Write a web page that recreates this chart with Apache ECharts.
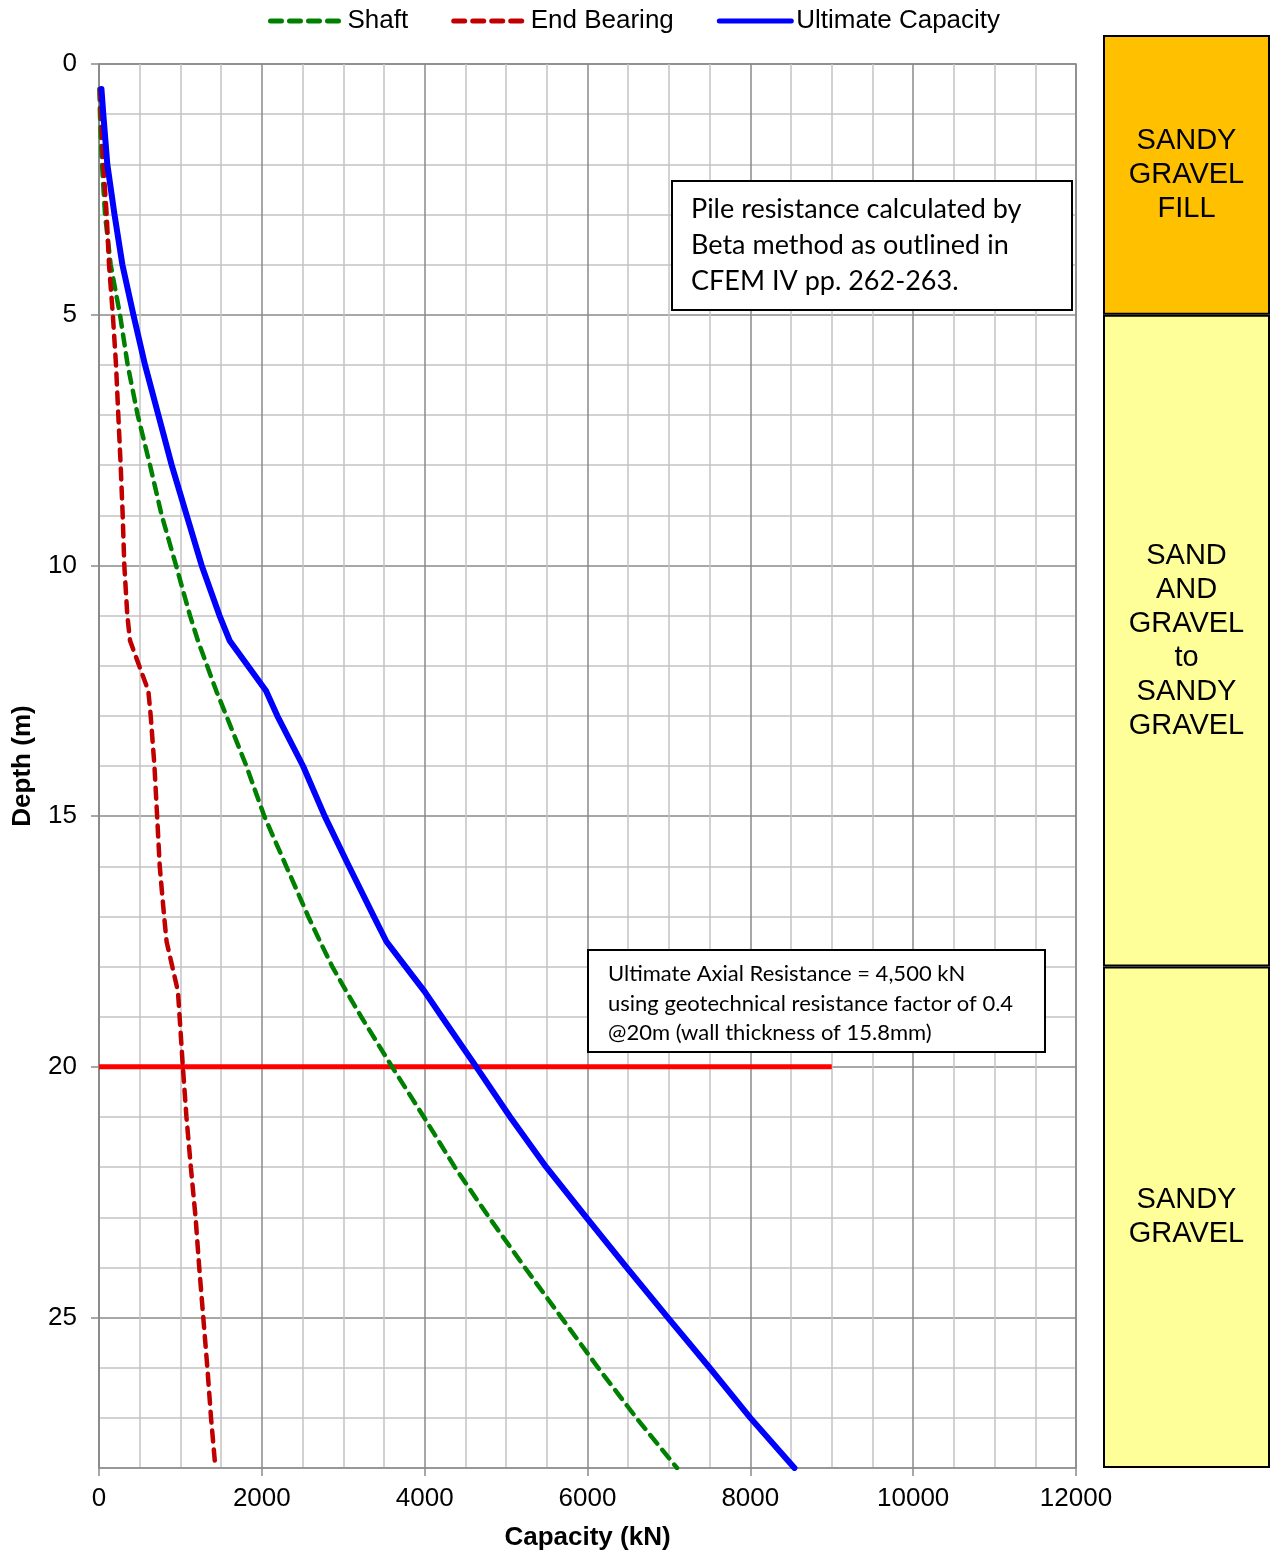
<!DOCTYPE html>
<html><head><meta charset="utf-8">
<script src="https://cdn.jsdelivr.net/npm/echarts@6/dist/echarts.min.js"></script>
<style>html,body{margin:0;padding:0;background:#fff}#c{width:1275px;height:1556px}</style>
</head><body><div id="c"></div>
<script>
// ---- data ----
const depths     = [0.5, 1, 2, 3, 4, 5, 6, 7, 8, 9, 10, 11, 11.5, 12.5, 13, 14, 15, 16, 17, 17.5, 18, 18.5, 19, 20, 21, 22, 23, 24, 25, 26, 27, 28];
const shaft      = [5, 12, 37, 74, 143, 258, 352, 475, 627, 770, 946, 1118, 1215, 1440, 1565, 1810, 2030, 2300, 2570, 2715, 2865, 3040, 3220, 3600, 3990, 4370, 4790, 5230, 5680, 6130, 6600, 7100];
const endBearing = [10, 25, 53, 94, 123, 170, 209, 237, 266, 291, 311, 348, 381, 606, 635, 681, 714, 746, 800, 830, 900, 970, 990, 1030, 1074, 1128, 1186, 1231, 1281, 1331, 1376, 1430];
const ultimate   = [30, 53, 102, 190, 287, 422, 565, 729, 893, 1077, 1261, 1480, 1605, 2051, 2190, 2506, 2772, 3070, 3375, 3530, 3765, 4000, 4210, 4634, 5050, 5494, 5985, 6480, 6987, 7500, 8000, 8542];
const designDepth = 20;
const designLineX = [0, 9000];
const xTickLabels = [0, 2000, 4000, 6000, 8000, 10000, 12000];
const yTickLabels = [0, 5, 10, 15, 20, 25];
const soilNames  = ['SANDY\nGRAVEL\nFILL', 'SAND\nAND\nGRAVEL\nto\nSANDY\nGRAVEL', 'SANDY\nGRAVEL'];
const soilTop    = [-0.58, 5, 18];
const soilBottom = [5, 18, 28];
const soilColors = ['#FFC000', '#FFFF99', '#FFFF99'];
const note1 = 'Pile resistance calculated by\nBeta method as outlined in\nCFEM IV pp. 262-263.';
const note2 = 'Ultimate Axial Resistance = 4,500 kN\nusing geotechnical resistance factor of 0.4\n@20m (wall thickness of 15.8mm)';

// ---- chart ----
const MAJOR = '#8a8a8a', MINOR = '#c3c3c3';
const pair = (xs) => xs.map((x, i) => [x, depths[i]]);
const plain = (v) => String(v);
const chart = echarts.init(document.getElementById('c'), null, {renderer: 'canvas'});
const option = {
  animation: false,
  backgroundColor: '#fff',
  textStyle: {fontFamily: 'Liberation Sans'},
  legend: {
    left: 263, top: 3, itemWidth: 72, itemHeight: 20, itemGap: 43,
    itemStyle: {opacity: 0},
    lineStyle: {width: 5},
    textStyle: {fontSize: 26, color: '#000', fontFamily: 'Liberation Sans'},
    data: ['Shaft', 'End Bearing', 'Ultimate Capacity']
  },
  grid: [
    {left: 99, right: 199, top: 64, bottom: 88, show: true, borderColor: MAJOR, borderWidth: 1.5, backgroundColor: 'transparent'},
    {left: 1103, right: 5, top: 64, bottom: 88}
  ],
  xAxis: [
    {type: 'value', min: 0, max: 12000, interval: 500,
     axisLine: {show: true, onZero: false, lineStyle: {color: MAJOR, width: 1.5}},
     axisTick: {show: false},
     axisLabel: {customValues: xTickLabels, formatter: plain, fontSize: 26, color: '#000', margin: 18},
     splitLine: {show: true, lineStyle: {color: [MAJOR, MINOR, MINOR, MINOR], width: 1.5}},
     name: 'Capacity (kN)', nameLocation: 'middle', nameGap: 57,
     nameTextStyle: {fontSize: 26, fontWeight: 'bold', color: '#000'}},
    {gridIndex: 1, type: 'value', min: 0, max: 1, show: false},
    {gridIndex: 0, type: 'value', min: 0, max: 12000, interval: 2000, position: 'bottom',
     axisLine: {show: false, onZero: false},
     axisTick: {show: true, customValues: xTickLabels, length: 8, lineStyle: {color: MAJOR, width: 1.5}},
     axisLabel: {show: false}, splitLine: {show: false}}
  ],
  yAxis: [
    {type: 'value', inverse: true, min: 0, max: 28, interval: 1,
     axisLine: {show: true, onZero: false, lineStyle: {color: MAJOR, width: 1.5}},
     axisTick: {show: false},
     axisLabel: {customValues: yTickLabels, formatter: plain, fontSize: 26, color: '#000', margin: 22},
     splitLine: {show: true, lineStyle: {color: [MAJOR, MINOR, MINOR, MINOR, MINOR], width: 1.5}},
     name: 'Depth (m)', nameLocation: 'middle', nameGap: 63, nameRotate: 90,
     nameTextStyle: {fontSize: 26, fontWeight: 'bold', color: '#000'}},
    {gridIndex: 1, type: 'value', inverse: true, min: 0, max: 28, show: false},
    {gridIndex: 0, type: 'value', inverse: true, min: 0, max: 28, interval: 5, position: 'left',
     axisLine: {show: false, onZero: false},
     axisTick: {show: true, customValues: yTickLabels, length: 8, lineStyle: {color: MAJOR, width: 1.5}},
     axisLabel: {show: false}, splitLine: {show: false}}
  ],
  series: [
    {name: 'Design Depth', type: 'line', symbol: 'none', z: 2,
     data: designLineX.map(x => [x, designDepth]),
     lineStyle: {color: '#FF0000', width: 5}, itemStyle: {color: '#FF0000'}},
    {name: 'Shaft', type: 'line', symbol: 'none', z: 3, data: pair(shaft),
     lineStyle: {color: '#008000', width: 4.5, type: [11, 8], cap: 'round'}, itemStyle: {color: '#008000'}},
    {name: 'End Bearing', type: 'line', symbol: 'none', z: 3, data: pair(endBearing),
     lineStyle: {color: '#C00000', width: 4.5, type: [11, 8], cap: 'round'}, itemStyle: {color: '#C00000'}},
    {name: 'Ultimate Capacity', type: 'line', symbol: 'none', z: 4, data: pair(ultimate),
     lineStyle: {color: '#0000FF', width: 6, cap: 'round', join: 'round'}, itemStyle: {color: '#0000FF'}},
    {name: 'Soil', type: 'custom', xAxisIndex: 1, yAxisIndex: 1, silent: true, clip: false,
     data: soilTop.map((t, i) => [t, soilBottom[i], i]),
     encode: {y: [0, 1]},
     renderItem: function (params, api) {
       const i = api.value(2);
       const p1 = api.coord([0, api.value(0)]);
       const p2 = api.coord([1, api.value(1)]);
       return {type: 'group', children: [
         {type: 'rect', shape: {x: p1[0] + 1, y: p1[1] + 1, width: p2[0] - p1[0] - 2, height: p2[1] - p1[1] - 2},
          style: {fill: soilColors[i], stroke: '#000', lineWidth: 2}},
         {type: 'text', x: (p1[0] + p2[0]) / 2, y: (p1[1] + p2[1]) / 2,
          style: {text: soilNames[i], fill: '#000', fontSize: 29, fontFamily: 'Liberation Sans',
                  align: 'center', verticalAlign: 'middle', lineHeight: 34}}
       ]};
     }}
  ],
  graphic: [
    {type: 'group', left: 671, top: 180, children: [
      {type: 'rect', z: 100, shape: {x: 0, y: 0, width: 400, height: 129}, style: {fill: '#fff', stroke: '#000', lineWidth: 2}},
      {type: 'text', z: 101, x: 19, y: 64, style: {text: note1, fontSize: 27, fontFamily: 'Lato', lineHeight: 36, fill: '#000', verticalAlign: 'middle'}}
    ]},
    {type: 'group', left: 587, top: 949, children: [
      {type: 'rect', z: 100, shape: {x: 0, y: 0, width: 457, height: 102}, style: {fill: '#fff', stroke: '#000', lineWidth: 2}},
      {type: 'text', z: 101, x: 20, y: 53.5, style: {text: note2, fontSize: 22, fontFamily: 'Lato', lineHeight: 29.5, fill: '#000', verticalAlign: 'middle'}}
    ]}
  ]
};
chart.setOption(option);
</script></body></html>
